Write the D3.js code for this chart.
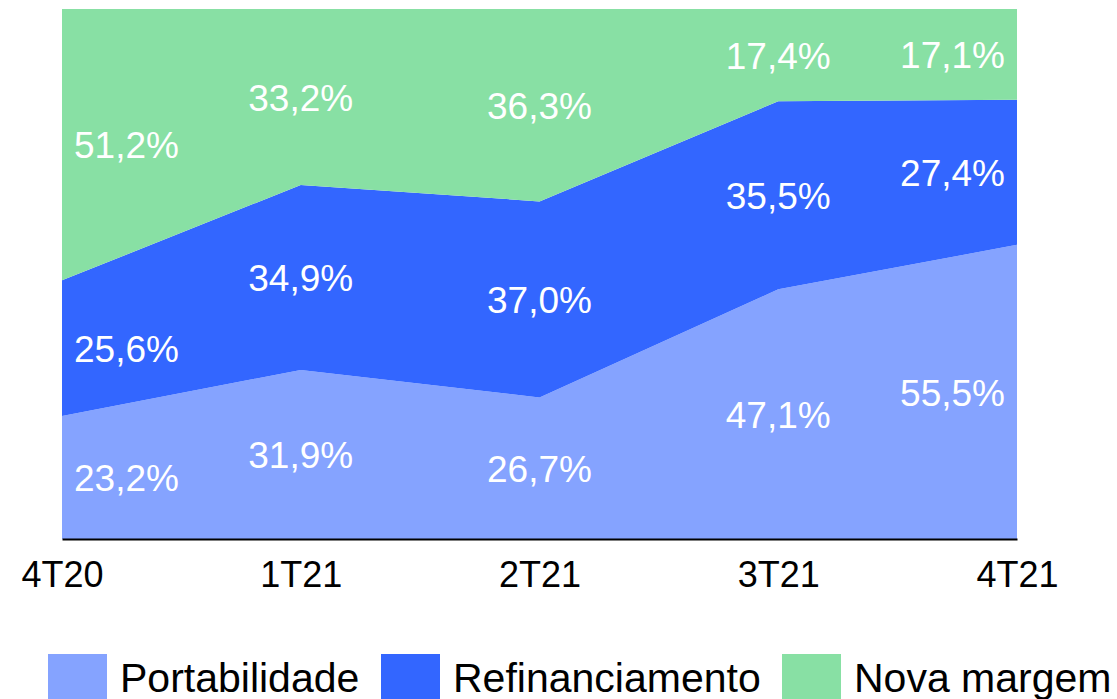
<!DOCTYPE html>
<html>
<head>
<meta charset="utf-8">
<script src="https://cdn.jsdelivr.net/npm/d3@7"></script>
<style>
  html, body { margin: 0; padding: 0; background: #fff; }
  svg { display: block; font-family: "Liberation Sans", Arial, sans-serif; }
</style>
</head>
<body>
<div id="chart"></div>
<script>
// trimestres
const quarters = ["4T20", "1T21", "2T21", "3T21", "4T21"];
const seriesNames = ["Portabilidade", "Refinanciamento", "Nova margem"];
const colors = ["#85a3ff", "#3366ff", "#88e0a4"];

// participação (%) por trimestre
const portabilidade   = [23.2, 31.9, 26.7, 47.1, 55.5];
const refinanciamento = [25.6, 34.9, 37.0, 35.5, 27.4];
const novaMargem      = [51.2, 33.2, 36.3, 17.4, 17.1];

const W = 1117, H = 699;
const plot = { left: 62, right: 1017, top: 9, bottom: 539 };

const rows = quarters.map((q, i) => ({
  q,
  "Portabilidade": portabilidade[i],
  "Refinanciamento": refinanciamento[i],
  "Nova margem": novaMargem[i]
}));

const svg = d3.select("#chart").append("svg")
  .attr("width", W).attr("height", H);

const x = d3.scalePoint().domain(quarters).range([plot.left, plot.right]);
const y = d3.scaleLinear().domain([0, 100]).range([plot.bottom, plot.top]);

const stack = d3.stack().keys(seriesNames)(rows);

const area = d3.area()
  .x(d => x(d.data.q))
  .y0(d => y(d[0]))
  .y1(d => y(d[1]));

svg.append("g").selectAll("path")
  .data(stack)
  .join("path")
  .attr("d", area)
  .attr("fill", (d, i) => colors[i]);

// rótulos de valor, no meio de cada faixa
const fmt = v => v.toFixed(1).replace(".", ",") + "%";
const labels = svg.append("g")
  .attr("fill", "#fff")
  .style("font-size", "37px");

stack.forEach(s => {
  s.forEach((d, i) => {
    let anchor = "middle", lx = x(d.data.q);
    if (i === 0) { anchor = "start"; lx += 12; }
    if (i === quarters.length - 1) { anchor = "end"; lx -= 12; }
    labels.append("text")
      .attr("x", lx)
      .attr("y", y((d[0] + d[1]) / 2))
      .attr("dy", "0.37em")
      .attr("text-anchor", anchor)
      .text(fmt(d[1] - d[0]));
  });
});

// eixo x
const xAxis = svg.append("g")
  .attr("transform", `translate(0,${plot.bottom})`)
  .call(d3.axisBottom(x).tickSize(0).tickPadding(22));
xAxis.select(".domain").attr("stroke", "#000").attr("stroke-width", 2);
xAxis.selectAll("text")
  .style("font-size", "36px")
  .style("font-family", "'Liberation Sans', Arial, sans-serif")
  .attr("fill", "#000");

// legenda
const legendX = [48, 381, 782];
const leg = svg.append("g").selectAll("g")
  .data(seriesNames)
  .join("g")
  .attr("transform", (d, i) => `translate(${legendX[i]},654)`);
leg.append("rect")
  .attr("width", 59).attr("height", 59)
  .attr("fill", (d, i) => colors[i]);
leg.append("text")
  .attr("x", 72).attr("y", 38)
  .style("font-size", "41px")
  .attr("fill", "#000")
  .text(d => d);
</script>
</body>
</html>
